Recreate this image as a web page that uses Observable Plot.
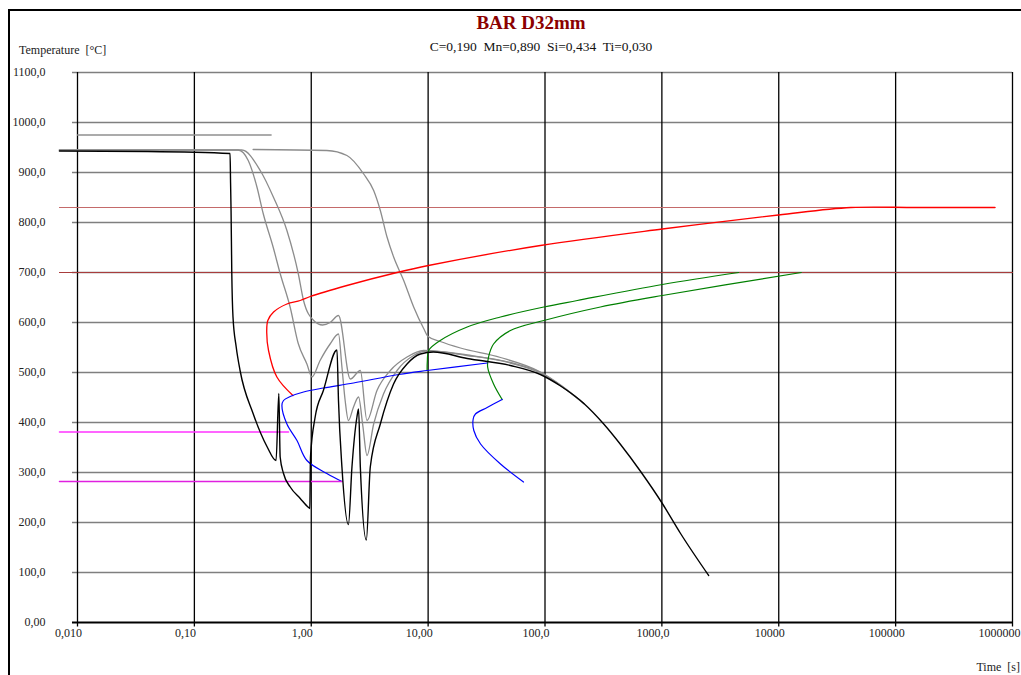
<!DOCTYPE html>
<html><head><meta charset="utf-8">
<script src="https://cdn.jsdelivr.net/npm/d3@7"></script>
<script src="https://cdn.jsdelivr.net/npm/@observablehq/plot@0.6"></script>
<style>
html,body{margin:0;padding:0;background:#fff;overflow:hidden;}
#wrap{position:relative;width:1021px;height:675px;overflow:hidden;font-family:"Liberation Serif","Times New Roman",serif;color:#222;}
#chart{position:absolute;left:0;top:0;}
#frame{position:absolute;left:8px;top:9px;width:1100px;height:800px;border:2px solid #000;box-sizing:border-box;pointer-events:none;}
.t{position:absolute;white-space:pre;line-height:1;}
#title{left:531px;top:13px;transform:translateX(-50%);font-size:19px;font-weight:bold;color:#8b0000;}
#sub{left:541px;top:40px;transform:translateX(-50%);font-size:13.5px;color:#111;}
#ylab{left:19px;top:44px;font-size:12px;}
#xlab{right:1px;top:661px;font-size:12px;}
</style></head><body>
<div id="wrap">
<div id="chart"></div>
<div id="frame"></div>
<div class="t" id="title">BAR D32mm</div>
<div class="t" id="sub">C=0,190  Mn=0,890  Si=0,434  Ti=0,030</div>
<div class="t" id="ylab">Temperature  [°C]</div>
<div class="t" id="xlab">Time  [s]</div>
</div>
<script>
// ---- axis ticks ----
const xTicks = [0.01, 0.1, 1, 10, 100, 1000, 10000, 100000, 1000000];
const xTickLabels = ["0,010", "0,10", "1,00", "10,00", "100,0", "1000,0", "10000", "100000", "1000000"];
const yTicks = [0, 100, 200, 300, 400, 500, 600, 700, 800, 900, 1000, 1100];
const yTickLabels = ["0,00", "100,0", "200,0", "300,0", "400,0", "500,0", "600,0", "700,0", "800,0", "900,0", "1000,0", "1100,0"];

// ---- cooling curves [time s, temperature °C] ----
const blackCurve = [[0.007,943],[0.04,942],[0.202,938],[0.204,880],[0.206,824],[0.209,698],[0.214,611],[0.228,551],[0.246,504],[0.318,418],[0.42,351],[0.50,324],[0.528,458],[0.542,331],[0.579,298],[0.661,271],[0.805,248],[0.948,230],[0.972,228],[0.985,331],[1.08,411],[1.27,464],[1.66,545],[1.71,444],[1.83,311],[2.08,196],[2.23,311],[2.46,411],[2.54,427],[2.63,311],[2.96,165],[3.2,311],[3.9,397],[5.06,477],[6.6,517],[8.59,537],[11.1,541],[21.6,528],[50.6,514],[91.4,496],[136,473],[215,438],[318,397],[443,356],[658,302],[1009,238],[1445,178],[2513,94]];
const grayCurveA = [[0.007,945],[0.15,945],[0.237,945],[0.289,924],[0.343,871],[0.388,818],[0.473,750],[0.542,698],[0.661,630],[0.774,558],[0.918,517],[1.014,491],[1.19,524],[1.45,557],[1.71,577],[1.83,511],[1.95,444],[2.08,404],[2.30,431],[2.54,451],[2.76,394],[3.0,334],[3.42,397],[4.15,457],[5.42,504],[7.51,534],[9.8,543],[21.6,534],[50.6,519],[91.4,499],[136,474],[215,438]];
const grayCurveB = [[0.007,945],[0.15,945],[0.255,945],[0.366,904],[0.476,850],[0.619,784],[0.774,698],[0.859,644],[1.05,604],[1.25,595],[1.45,600],[1.71,614],[2.16,487],[2.63,504],[3.0,404],[3.65,464],[4.75,504],[6.6,531],[9.16,544],[21.6,535],[50.6,520],[91.4,500],[136,474],[215,438]];
const grayCurveC = [[0.318,946],[1.36,944],[2.02,934],[2.81,897],[3.42,864],[3.9,824],[4.45,771],[5.07,731],[6.18,684],[7.52,631],[9.16,588],[10.0,572],[12.7,562],[18.9,549],[41.6,530],[91.4,501],[136,475],[215,438]];

// ---- transformation curves ----
const ferriteStart = [[0.697,454],[0.508,491],[0.431,544],[0.416,580],[0.425,604],[0.476,621],[0.619,637],[0.805,644],[0.98,652],[2.02,674],[5.42,700],[10.05,714],[91.4,754],[1009,787],[9930,815],[41400,830],[150000,830],[708000,830]];
const bainite1 = [[1.83,282],[1.36,298],[0.918,324],[0.755,364],[0.619,397],[0.561,434],[0.579,444],[0.661,452],[0.859,461],[1.27,469],[2.30,479],[5.60,496],[9.80,504],[32.0,519]];
const bainite2 = [[65.5,281],[41.6,317],[28.1,357],[24.6,384],[24.3,407],[25.4,417],[32.0,430],[43.0,446]];
const pearlite1 = [[9.8,504],[9.85,524],[10.1,544],[12.7,564],[21.6,591],[41.6,611],[97.7,631],[189,644],[1009,676],[4540,700]];
const pearlite2 = [[43.0,446],[36.3,477],[32.3,511],[32.9,531],[36.3,557],[50.6,584],[97.7,604],[298,631],[1009,654],[15600,700]];

// ---- horizontal reference temperatures [temp, from t, to t] ----
const ac3Line = [830, 0.007, 708000];
const ac1Line = [700, 0.007, 1000000];
const msLine = [381, 0.007, 0.64];
const m90Line = [282, 0.007, 1.83];
const austLine = [975, 0.01, 0.454];

const X = d => d[0], Y = d => d[1];
const seg = a => [[a[1], a[0]], [a[2], a[0]]];

const gridLeft = 0.00906;
const chart = Plot.plot({
  width: 1021, height: 675,
  marginLeft: 77, marginRight: 9, marginTop: 72, marginBottom: 53,
  x: {type: "log", domain: [0.01, 1e6], axis: null},
  y: {domain: [0, 1100], axis: null},
  style: {fontFamily: "Liberation Serif, Times New Roman, serif", fontSize: "12px", background: "transparent", overflow: "visible"},
  marks: [
    Plot.ruleY(yTicks.filter(d => d > 0), {y: d => d, x1: gridLeft, x2: 1e6, stroke: "#7f7f7f", strokeWidth: 1.6}),
    Plot.ruleX(xTicks, {x: d => d, y1: -9, y2: 1100, stroke: "#000", strokeWidth: 1.3}),
    Plot.ruleY([0], {y: d => d, x1: gridLeft, x2: 1e6, stroke: "#000", strokeWidth: 2}),
    Plot.text(xTicks.slice(0, -1), {x: d => d, text: (d, i) => xTickLabels[i], frameAnchor: "bottom", dy: 14, dx: -9, fill: "#222"}),
    Plot.text(xTicks.slice(-1), {x: d => d, text: () => xTickLabels[xTickLabels.length - 1], frameAnchor: "bottom", dy: 14, dx: 8, textAnchor: "end", fill: "#222"}),
    Plot.text(yTicks, {y: d => d, text: (d, i) => yTickLabels[i], frameAnchor: "left", dx: -32, textAnchor: "end", fill: "#222"}),
    Plot.line(seg(ac3Line), {x: X, y: Y, stroke: "#c46a6a", strokeWidth: 1}),
    Plot.line(seg(ac1Line), {x: X, y: Y, stroke: "#a83c3c", strokeWidth: 1}),
    Plot.line(seg(austLine), {x: X, y: Y, stroke: "#909090", strokeWidth: 1.3}),
    Plot.line(grayCurveC, {x: X, y: Y, stroke: "#8c8c8c", strokeWidth: 1.3, curve: "monotone-x"}),
    Plot.line(grayCurveB, {x: X, y: Y, stroke: "#8c8c8c", strokeWidth: 1.3, curve: "monotone-x"}),
    Plot.line(grayCurveA, {x: X, y: Y, stroke: "#8c8c8c", strokeWidth: 1.3, curve: "monotone-x"}),
    Plot.line(ferriteStart, {x: X, y: Y, stroke: "#ff0000", strokeWidth: 1.3, curve: "catmull-rom"}),
    Plot.line(pearlite1, {x: X, y: Y, stroke: "#008000", strokeWidth: 1.2, curve: "catmull-rom"}),
    Plot.line(pearlite2, {x: X, y: Y, stroke: "#008000", strokeWidth: 1.2, curve: "catmull-rom"}),
    Plot.line(bainite1, {x: X, y: Y, stroke: "#0000ff", strokeWidth: 1.2, curve: "catmull-rom"}),
    Plot.line(bainite2, {x: X, y: Y, stroke: "#0000ff", strokeWidth: 1.2, curve: "catmull-rom"}),
    Plot.line(seg(msLine), {x: X, y: Y, stroke: "#ff33ff", strokeWidth: 1.3}),
    Plot.line(seg(m90Line), {x: X, y: Y, stroke: "#e020e0", strokeWidth: 1.3}),
    Plot.line(blackCurve, {x: X, y: Y, stroke: "#000", strokeWidth: 1.4, curve: "monotone-x"})
  ]
});
document.getElementById("chart").appendChild(chart);
</script>
</body></html>
